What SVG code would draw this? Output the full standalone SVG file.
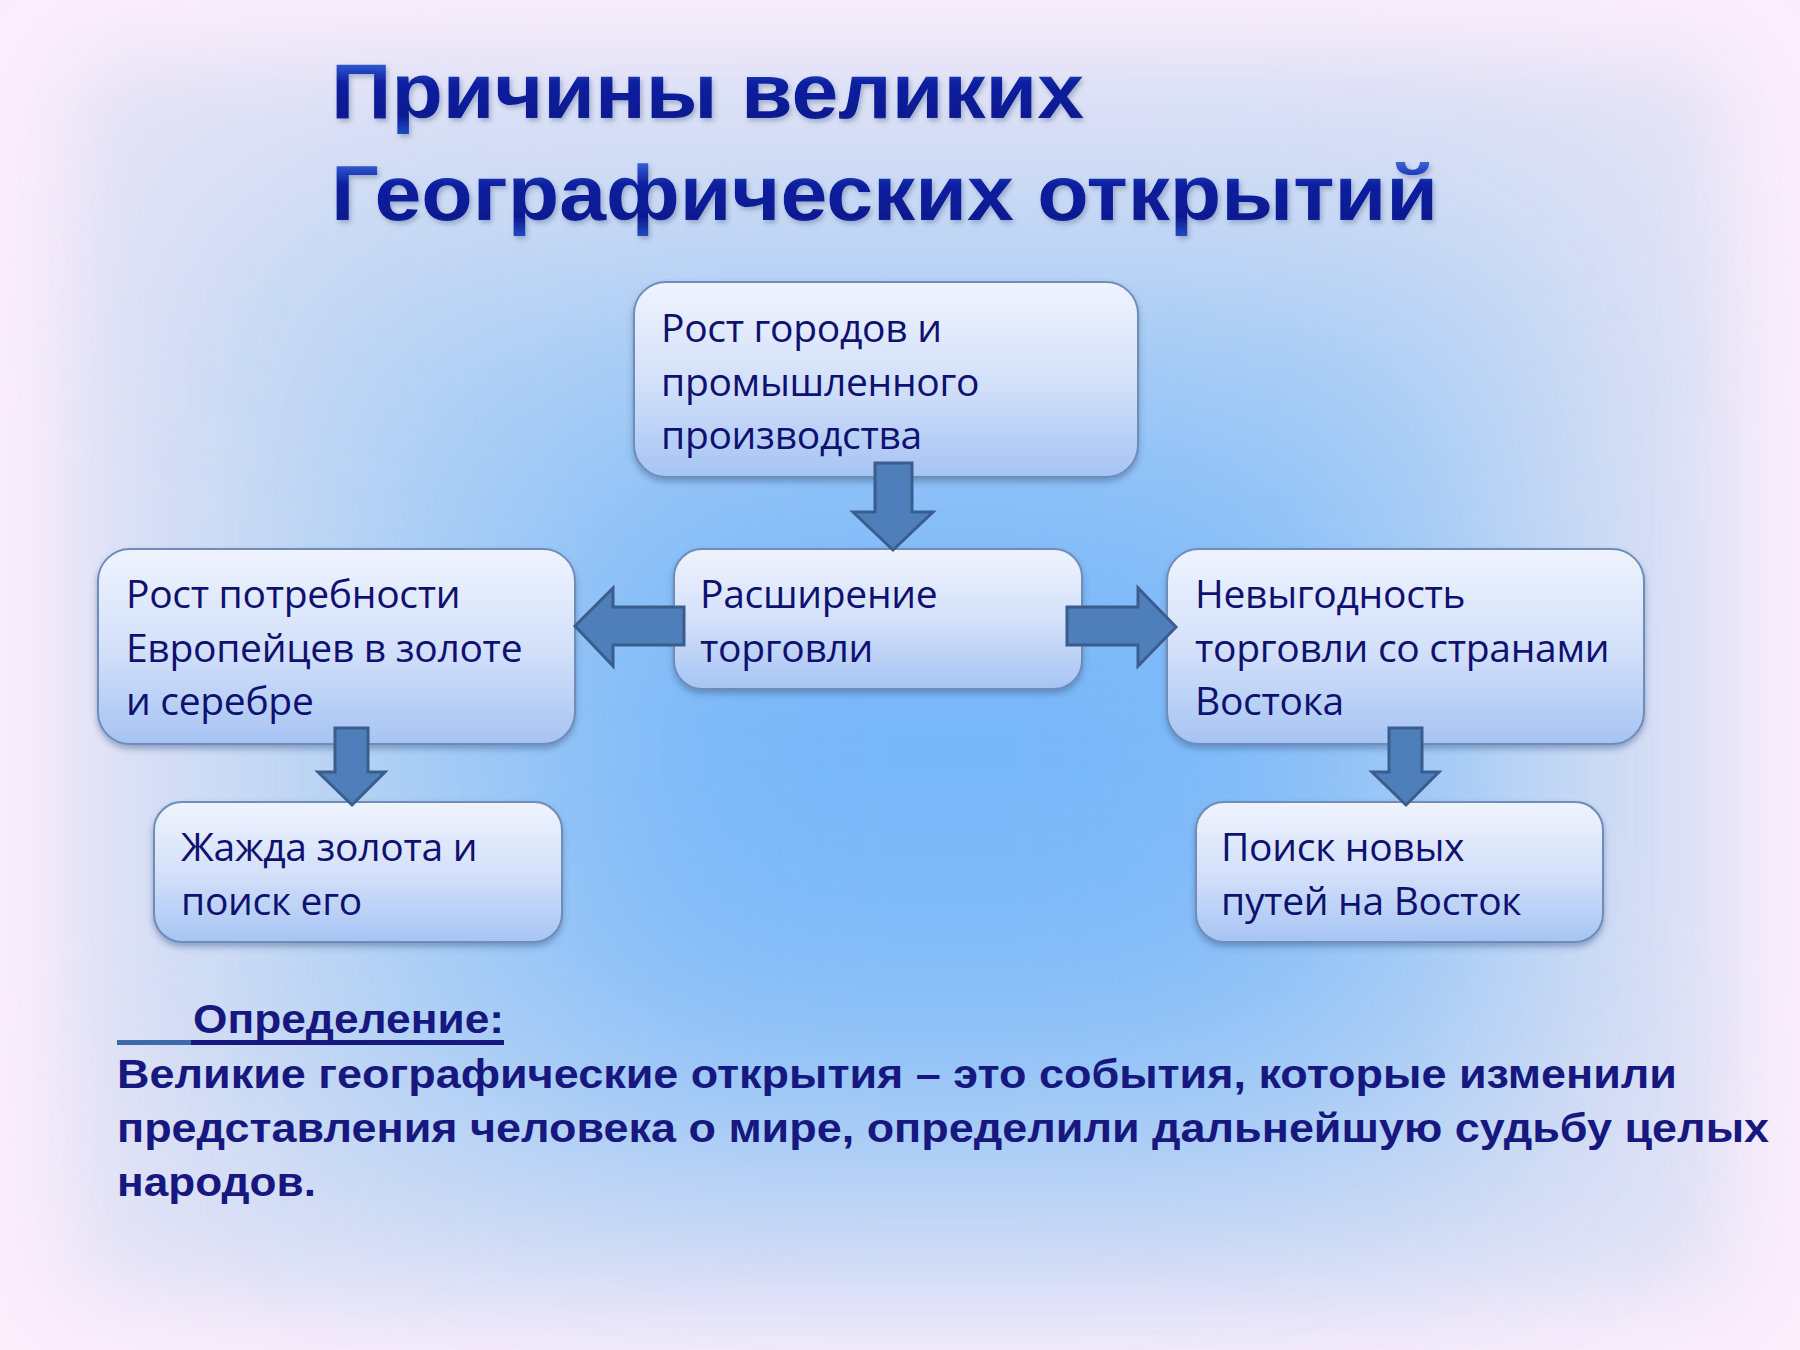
<svg xmlns="http://www.w3.org/2000/svg" width="1800" height="1350" viewBox="0 0 1800 1350">
  <defs>
    <filter id="bgblur1" filterUnits="userSpaceOnUse" x="-600" y="-600" width="3000" height="2550"><feGaussianBlur stdDeviation="45"/></filter>
    <filter id="bgblur2" filterUnits="userSpaceOnUse" x="-600" y="-600" width="3000" height="2550"><feGaussianBlur stdDeviation="130"/></filter>
    <filter id="bgblur3" filterUnits="userSpaceOnUse" x="-600" y="-600" width="3000" height="2550"><feGaussianBlur stdDeviation="150"/></filter>
    <filter id="boxshadow" x="-10%" y="-10%" width="120%" height="130%">
      <feDropShadow dx="0" dy="4" stdDeviation="3" flood-color="#3a5a8a" flood-opacity="0.45"/>
    </filter>
    <filter id="titleshadow" x="-5%" y="-20%" width="110%" height="150%">
      <feDropShadow dx="2" dy="3" stdDeviation="2.5" flood-color="#5a6f9a" flood-opacity="0.45"/>
    </filter>
    <linearGradient id="boxfill" x1="0" y1="0" x2="0" y2="1">
      <stop offset="0" stop-color="#eff3fe"/>
      <stop offset="0.5" stop-color="#d4e1fa"/>
      <stop offset="1" stop-color="#a6c4f3"/>
    </linearGradient>
    <linearGradient id="t1" gradientUnits="userSpaceOnUse" x1="0" y1="60" x2="0" y2="136">
      <stop offset="0" stop-color="#3a66da"/>
      <stop offset="0.3" stop-color="#0c20a0"/>
      <stop offset="0.72" stop-color="#0a1990"/>
      <stop offset="1" stop-color="#2350c6"/>
    </linearGradient>
    <linearGradient id="t2" gradientUnits="userSpaceOnUse" x1="0" y1="161" x2="0" y2="238">
      <stop offset="0" stop-color="#3a66da"/>
      <stop offset="0.3" stop-color="#0c20a0"/>
      <stop offset="0.72" stop-color="#0a1990"/>
      <stop offset="1" stop-color="#2350c6"/>
    </linearGradient>
    <style>
      .box { fill: url(#boxfill); stroke: #6f8dba; stroke-width: 2; filter: url(#boxshadow); }
      .nt { font-family: "Open Sans", "Noto Sans", sans-serif; font-size: 39px; letter-spacing: -0.3px; fill: #0f1170; }
      .arrow { fill: #4f7fbb; stroke: #3b5d8e; stroke-width: 3; stroke-linejoin: miter; }
      .title { font-family: "Liberation Sans", Arial, sans-serif; font-weight: bold; font-size: 78px; filter: url(#titleshadow); }
      .def { font-family: "Liberation Sans", Arial, sans-serif; font-weight: bold; font-size: 40px; fill: #17187f; }
    </style>
  </defs>

  <g id="background">
    <rect x="0" y="0" width="1800" height="1350" fill="#fdeefc"/>
    <rect x="70" y="55" width="1660" height="1240" fill="#e4e3f5" filter="url(#bgblur1)"/>
    <rect x="220" y="200" width="1360" height="1000" fill="#b6d3f4" filter="url(#bgblur2)"/>
    <rect x="520" y="420" width="860" height="660" fill="#78b7f9" filter="url(#bgblur3)"/>
  </g>

  <g id="title">
    <text class="title" x="331" y="118" fill="url(#t1)" textLength="753" lengthAdjust="spacingAndGlyphs">Причины великих</text>
    <text class="title" x="331" y="220" fill="url(#t2)" textLength="1107" lengthAdjust="spacingAndGlyphs">Географических открытий</text>
  </g>

  <g id="node-growth-cities">
    <rect class="box" x="634" y="282" width="504" height="195" rx="32"/>
    <text class="nt" x="661" y="342">Рост городов и</text>
    <text class="nt" x="661" y="396">промышленного</text>
    <text class="nt" x="661" y="449">производства</text>
  </g>

  <g id="node-trade">
    <rect class="box" x="674" y="549" width="408" height="140" rx="28"/>
    <text class="nt" x="700" y="608">Расширение</text>
    <text class="nt" x="700" y="662">торговли</text>
  </g>

  <g id="node-gold-need">
    <rect class="box" x="98" y="549" width="477" height="195" rx="32"/>
    <text class="nt" x="126" y="608">Рост потребности</text>
    <text class="nt" x="126" y="662">Европейцев в золоте</text>
    <text class="nt" x="126" y="715">и серебре</text>
  </g>

  <g id="node-east-trade">
    <rect class="box" x="1167" y="549" width="477" height="195" rx="32"/>
    <text class="nt" x="1195" y="608">Невыгодность</text>
    <text class="nt" x="1195" y="662">торговли со странами</text>
    <text class="nt" x="1195" y="715">Востока</text>
  </g>

  <g id="node-gold-thirst">
    <rect class="box" x="154" y="802" width="408" height="140" rx="28"/>
    <text class="nt" x="181" y="861">Жажда золота и</text>
    <text class="nt" x="181" y="915">поиск его</text>
  </g>

  <g id="node-new-routes">
    <rect class="box" x="1196" y="802" width="407" height="140" rx="28"/>
    <text class="nt" x="1221" y="861">Поиск новых</text>
    <text class="nt" x="1221" y="915">путей на Восток</text>
  </g>

  <g id="connectors">
    <polygon class="arrow" points="875,463 912,463 912,512 933,512 893,550 853,512 875,512"/>
    <polygon class="arrow" points="684,607 613,607 613,588 575,626 613,666 613,645 684,645"/>
    <polygon class="arrow" points="1067,607 1138,607 1138,588 1176,627 1138,666 1138,645 1067,645"/>
    <polygon class="arrow" points="335,728 368,728 368,772 385,772 352,805 318,772 335,772"/>
    <polygon class="arrow" points="1389,728 1422,728 1422,772 1439,772 1406,805 1372,772 1389,772"/>
  </g>

  <g id="definition">
    <rect x="117" y="1040" width="74" height="5" fill="#3d6aa8"/>
    <rect x="191" y="1040" width="313" height="5" fill="#17187f"/>
    <text class="def" x="193" y="1033" textLength="311" lengthAdjust="spacingAndGlyphs">Определение:</text>
    <text class="def" x="117" y="1088" textLength="1560" lengthAdjust="spacingAndGlyphs">Великие географические открытия – это события, которые изменили</text>
    <text class="def" x="117" y="1142" textLength="1652" lengthAdjust="spacingAndGlyphs">представления человека о мире, определили дальнейшую судьбу целых</text>
    <text class="def" x="117" y="1196" textLength="199" lengthAdjust="spacingAndGlyphs">народов.</text>
  </g>
</svg>
